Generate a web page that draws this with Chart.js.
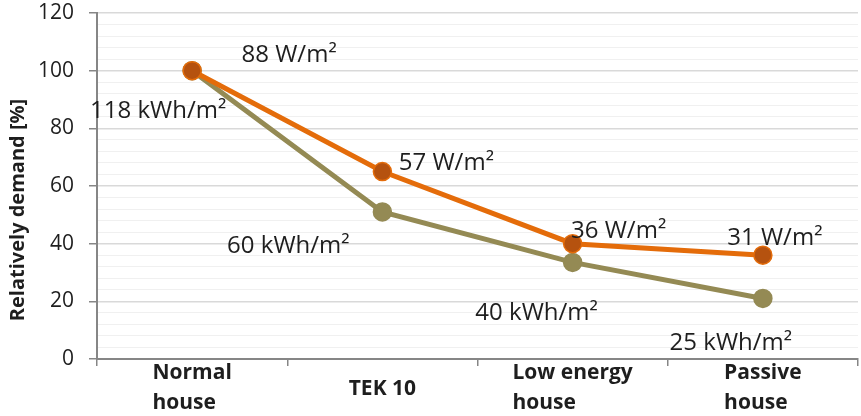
<!DOCTYPE html>
<html>
<head>
<meta charset="utf-8">
<script src="https://cdn.jsdelivr.net/npm/chart.js@4"></script>
<style>
  html, body { margin: 0; padding: 0; background: #fff; }
  #wrap { width: 861px; height: 416px; }
</style>
</head>
<body>
<div id="wrap"><canvas id="chart" width="861" height="416"></canvas></div>
<script>
const categories = [["Normal", "house"], ["TEK 10"], ["Low energy", "house"], ["Passive", "house"]];
const powerDemand = [100, 65, 40, 36];
const energyDemand = [100, 51, 33.5, 21];
const powerLabels = ["88 W/m²", "57 W/m²", "36 W/m²", "31 W/m²"];
const energyLabels = ["118 kWh/m²", "60 kWh/m²", "40 kWh/m²", "25 kWh/m²"];
const yTitle = "Relatively demand [%]";

const FONT = "'Open Sans', sans-serif";

// offsets of the value labels from their points (text centre)
const powerOffsets = [[97, -16], [64, -8], [46, -13], [12, -17]];
const energyOffsets = [[-34, 40], [-94, 34], [-36, 51], [-32, 45]];

const labelPlugin = {
    id: "labels",
    afterDatasetsDraw(chart) {
        const ctx = chart.ctx;
        ctx.save();
        ctx.fillStyle = "#1e1e1e";
        ctx.font = "24px " + FONT;
        ctx.textAlign = "center";
        ctx.textBaseline = "middle";
        [[0, powerLabels, powerOffsets], [1, energyLabels, energyOffsets]].forEach(([di, texts, offs]) => {
            const meta = chart.getDatasetMeta(di);
            meta.data.forEach((pt, i) => {
                ctx.fillText(texts[i], pt.x + offs[i][0], pt.y + offs[i][1]);
            });
        });
        ctx.restore();
    },
    afterDraw(chart) {
        const ctx = chart.ctx;
        const x = chart.scales.x;
        ctx.save();
        // category labels, left aligned block centred on the category
        ctx.fillStyle = "#1e1e1e";
        ctx.font = "bold 21px " + FONT;
        ctx.textBaseline = "middle";
        ctx.textAlign = "left";
        categories.forEach((lines, i) => {
            const cx = x.getPixelForValue(i);
            const w = Math.max(...lines.map(l => ctx.measureText(l).width));
            const y0 = lines.length === 1 ? 389 : 373;
            lines.forEach((l, j) => ctx.fillText(l, cx - w / 2, y0 + j * 30));
        });
        // y axis title
        ctx.translate(18, 210);
        ctx.rotate(-Math.PI / 2);
        ctx.font = "bold 20px " + FONT;
        ctx.textAlign = "center";
        ctx.fillText(yTitle, 0, 0);
        ctx.restore();
    }
};

new Chart(document.getElementById("chart"), {
    type: "line",
    data: {
        labels: categories.map(c => c.join(" ")),
        datasets: [
            {
                label: "Power",
                data: powerDemand,
                borderColor: "#E46C0A",
                borderWidth: 5,
                pointRadius: 9,
                pointHoverRadius: 9,
                pointBackgroundColor: "#B5520F",
                pointBorderColor: "#E46C0A",
                pointBorderWidth: 1.5,
                tension: 0
            },
            {
                label: "Energy",
                data: energyDemand,
                borderColor: "#948A54",
                borderWidth: 5,
                pointRadius: 9,
                pointHoverRadius: 9,
                pointBackgroundColor: "#948A54",
                pointBorderColor: "#948A54",
                pointBorderWidth: 1.5,
                tension: 0
            }
        ]
    },
    options: {
        responsive: false,
        animation: false,
        layout: { autoPadding: false, padding: { top: 13, right: 3, left: 0, bottom: 0 } },
        plugins: {
            legend: { display: false },
            tooltip: { enabled: false }
        },
        scales: {
            x: {
                offset: true,
                grid: {
                    offset: true,
                    drawOnChartArea: false,
                    drawTicks: true,
                    tickLength: 7,
                    color: "#868686",
                    lineWidth: 1.5
                },
                border: { color: "#868686", width: 2 },
                ticks: { display: false },
                afterFit: s => { s.height = 57; s.paddingLeft = 0; s.paddingRight = 0; }
            },
            y: {
                min: 0,
                max: 120,
                ticks: {
                    stepSize: 4,
                    autoSkip: false,
                    padding: 15,
                    color: "#1e1e1e",
                    font: { family: FONT, size: 21 },
                    callback: v => (v % 20 === 0 ? v : "")
                },
                grid: {
                    tickLength: 8,
                    color: c => (c.tick.value % 20 === 0 ? "#d9d9d9" : "#f0f0f0"),
                    tickColor: c => (c.tick.value % 20 === 0 ? "#868686" : "rgba(0,0,0,0)"),
                    lineWidth: c => (c.tick.value % 20 === 0 ? 1.5 : 1)
                },
                border: { color: "#868686", width: 2 },
                afterFit: s => { s.width = 97; s.paddingTop = 0; s.paddingBottom = 0; }
            }
        }
    },
    plugins: [labelPlugin]
});
</script>
</body>
</html>
